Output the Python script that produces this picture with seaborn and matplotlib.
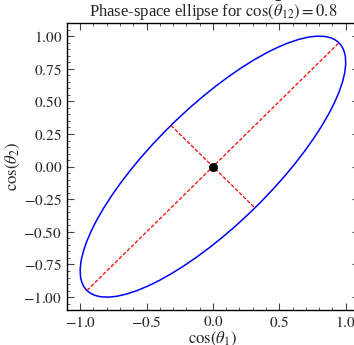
import matplotlib
matplotlib.use('Agg')
import matplotlib.pyplot as plt
from matplotlib.patches import Ellipse
from matplotlib.ticker import MultipleLocator, FuncFormatter
import seaborn as sns

sns.set_style('ticks')
plt.rcParams['font.family'] = ['Liberation Serif', 'DejaVu Serif']
plt.rcParams['mathtext.fontset'] = 'stix'

# Параметры эллипса
cos_theta12 = 0.8
center = [0.0, 0.0]
semi_major = 1.342
semi_minor = 0.447
angle_deg = 45

# Главные оси эллипса
major_x = [-0.949, 0.949]
major_y = [-0.949, 0.949]
minor_x = [-0.316, 0.316]
minor_y = [0.316, -0.316]

fig = plt.figure(figsize=(3.54, 3.45), dpi=100)
ax = fig.add_axes([0.189, 0.101, 0.825, 0.832])

ell = Ellipse(center, 2 * semi_major, 2 * semi_minor, angle=angle_deg,
              fill=False, edgecolor='blue', linewidth=1.1)
ax.add_patch(ell)

sns.lineplot(x=major_x, y=major_y, sort=False, color='red',
             linestyle='--', linewidth=0.9, ax=ax)
sns.lineplot(x=minor_x, y=minor_y, sort=False, color='red',
             linestyle='--', linewidth=0.9, ax=ax)
ax.lines[0].set_dashes([3, 1.5])
ax.lines[1].set_dashes([3, 1.5])
sns.scatterplot(x=[center[0]], y=[center[1]], color='black', s=36,
                edgecolor='black', zorder=5, ax=ax)

ax.set_xlim(-1.1, 1.1)
ax.set_ylim(-1.1, 1.1)
ax.xaxis.set_major_locator(MultipleLocator(0.5))
ax.xaxis.set_minor_locator(MultipleLocator(0.1))
ax.yaxis.set_major_locator(MultipleLocator(0.25))
ax.yaxis.set_minor_locator(MultipleLocator(0.05))
ax.xaxis.set_major_formatter(FuncFormatter(lambda v, p: r'$%.1f$' % v))
ax.yaxis.set_major_formatter(FuncFormatter(lambda v, p: r'$%.2f$' % v))
ax.tick_params(which='both', direction='in', top=True, right=True,
               labelsize=11, color='#444444')
ax.tick_params(which='major', length=5, width=0.8)
ax.tick_params(which='minor', length=2.5, width=0.6)
for s in ax.spines.values():
    s.set_linewidth(1.0)
    s.set_color('black')

ax.set_xlabel(r'$\cos(\theta_1)$', fontsize=12, labelpad=0)
ax.set_ylabel(r'$\cos(\theta_2)$', fontsize=12, labelpad=1)
ax.set_title(r'Phase-space ellipse for $\cos(\bar{\theta}_{12}) = 0.8$',
             fontsize=12, pad=4)

fig.savefig('out.png', dpi=100)
